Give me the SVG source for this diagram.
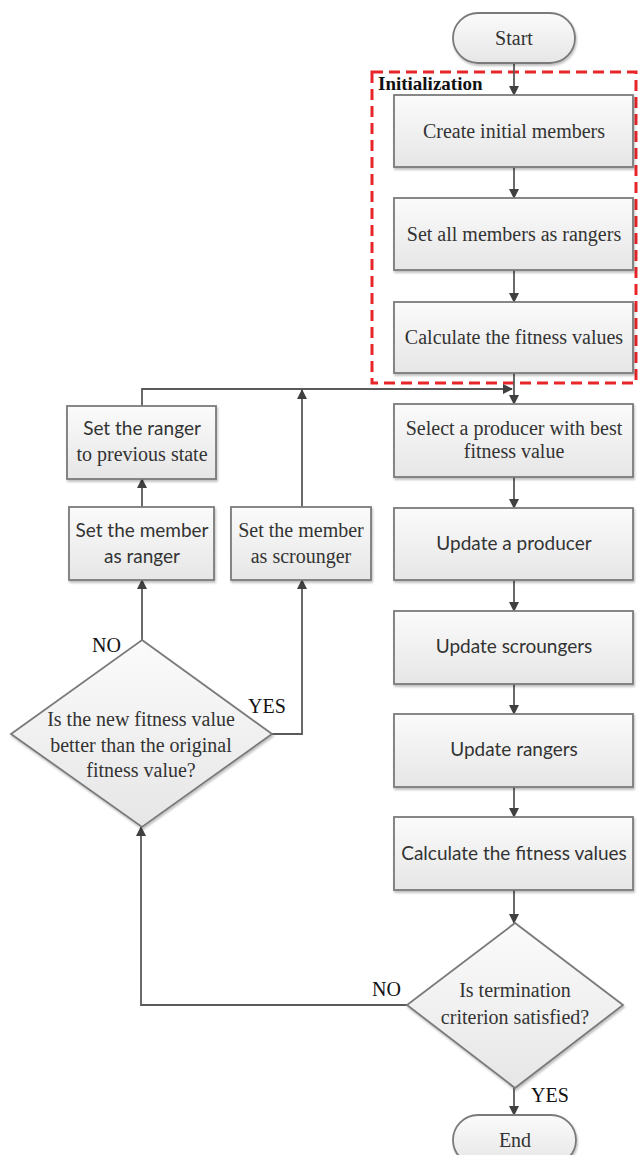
<svg xmlns="http://www.w3.org/2000/svg" width="638" height="1155" viewBox="0 0 638 1155">
<defs>
<linearGradient id="g" x1="0" y1="0" x2="0" y2="1">
<stop offset="0" stop-color="#fbfbfb"/>
<stop offset="1" stop-color="#e6e6e6"/>
</linearGradient>
<filter id="sh" x="-10%" y="-10%" width="120%" height="130%">
<feDropShadow dx="1" dy="2" stdDeviation="1.2" flood-color="#000" flood-opacity="0.25"/>
</filter>
<marker id="ah" markerWidth="10" markerHeight="10" refX="9" refY="5" orient="auto" markerUnits="userSpaceOnUse">
<path d="M0,0 L10,5 L0,10 Z" fill="#404040"/>
</marker>
</defs>
<style>
.box{fill:url(#g);stroke:#7a7a7a;stroke-width:1.8;filter:url(#sh)}
.ca{fill:none;stroke:#5a5a5a;stroke-width:1.8;marker-end:url(#ah)}
.serif{font-family:"Liberation Serif","Times New Roman",serif;font-size:20px;fill:#333;text-anchor:middle}
.sans{font-family:Lato,"Liberation Sans",sans-serif;font-size:19px;fill:#333;text-anchor:middle}
.lbl{font-family:"Liberation Serif","Times New Roman",serif;font-size:20px;fill:#111}
</style>
<rect x="0" y="0" width="638" height="1155" fill="#fff"/>

<g id="init-region">
<rect x="372" y="72" width="264" height="311" fill="none" stroke="#e8262a" stroke-width="3" stroke-dasharray="11,6"/>
<text x="378" y="90" font-family="'Liberation Serif','Times New Roman',serif" font-size="19" font-weight="bold" fill="#111">Initialization</text>
</g>

<g id="connectors">
<line class="ca" x1="514" y1="63" x2="514" y2="95"/>
<line class="ca" x1="514" y1="167" x2="514" y2="198"/>
<line class="ca" x1="514" y1="270" x2="514" y2="302"/>
<line class="ca" x1="514" y1="373" x2="514" y2="404"/>
<line class="ca" x1="514" y1="477" x2="514" y2="508"/>
<line class="ca" x1="514" y1="580" x2="514" y2="611"/>
<line class="ca" x1="514" y1="684" x2="514" y2="714"/>
<line class="ca" x1="514" y1="787" x2="514" y2="817"/>
<line class="ca" x1="514" y1="890" x2="514" y2="923"/>
<line class="ca" x1="514" y1="1088" x2="514" y2="1115"/>
<polyline class="ca" points="407,1005 141,1005 141,827"/>
<line class="ca" x1="142" y1="640" x2="142" y2="580"/>
<polyline class="ca" points="272,734 302,734 302,580"/>
<line class="ca" x1="142" y1="507" x2="142" y2="479"/>
<polyline class="ca" points="142,406 142,389 512,389"/>
<line class="ca" x1="302" y1="507" x2="302" y2="390"/>
</g>

<g id="start">
<rect class="box" x="453" y="13" width="122" height="50" rx="25"/>
<text class="serif" x="514" y="45">Start</text>
</g>
<g id="create">
<rect class="box" x="394" y="95" width="239" height="72"/>
<text class="serif" x="514" y="138">Create initial members</text>
</g>
<g id="set-rangers">
<rect class="box" x="394" y="198" width="239" height="72"/>
<text class="serif" x="514" y="241">Set all members as rangers</text>
</g>
<g id="calc1">
<rect class="box" x="394" y="302" width="239" height="71"/>
<text class="serif" x="514" y="344">Calculate the fitness values</text>
</g>
<g id="select">
<rect class="box" x="394" y="404" width="239" height="73"/>
<text class="serif" x="514" y="435">Select a producer with best</text>
<text class="serif" x="514" y="458">fitness value</text>
</g>
<g id="upd-producer">
<rect class="box" x="394" y="508" width="239" height="72"/>
<text class="sans" x="514" y="550">Update a producer</text>
</g>
<g id="upd-scroungers">
<rect class="box" x="394" y="611" width="239" height="73"/>
<text class="sans" x="514" y="653">Update scroungers</text>
</g>
<g id="upd-rangers">
<rect class="box" x="394" y="714" width="239" height="73"/>
<text class="sans" x="514" y="756">Update rangers</text>
</g>
<g id="calc2">
<rect class="box" x="394" y="817" width="239" height="73"/>
<text class="sans" x="514" y="860" font-size="18.6">Calculate the fitness values</text>
</g>
<g id="terminate">
<polygon class="box" points="515,923 623,1005 515,1088 407,1005"/>
<text class="serif" x="515" y="997">Is termination</text>
<text class="serif" x="515" y="1024">criterion satisfied?</text>
</g>
<g id="end">
<rect class="box" x="453" y="1115" width="123" height="50" rx="25"/>
<text class="serif" x="515" y="1147">End</text>
</g>
<g id="prev-state">
<rect class="box" x="67" y="406" width="149" height="73"/>
<text class="sans" x="142" y="435">Set the ranger</text>
<text class="serif" x="142" y="461">to previous state</text>
</g>
<g id="member-ranger">
<rect class="box" x="69" y="507" width="145" height="73"/>
<text class="sans" x="142" y="537">Set the member</text>
<text class="sans" x="142" y="563">as ranger</text>
</g>
<g id="member-scrounger">
<rect class="box" x="231" y="507" width="140" height="73"/>
<text class="serif" x="301" y="537">Set the member</text>
<text class="serif" x="301" y="563">as scrounger</text>
</g>
<g id="better">
<polygon class="box" points="142,640 272,734 142,827 11,734"/>
<text class="serif" x="141" y="726" font-size="19.5">Is the new fitness value</text>
<text class="serif" x="141" y="752" font-size="19.5">better than the original</text>
<text class="serif" x="141" y="777" font-size="19.5">fitness value?</text>
</g>

<g id="labels">
<text class="lbl" x="92" y="652">NO</text>
<text class="lbl" x="248" y="713">YES</text>
<text class="lbl" x="372" y="996">NO</text>
<text class="lbl" x="531" y="1102">YES</text>
</g>
</svg>
